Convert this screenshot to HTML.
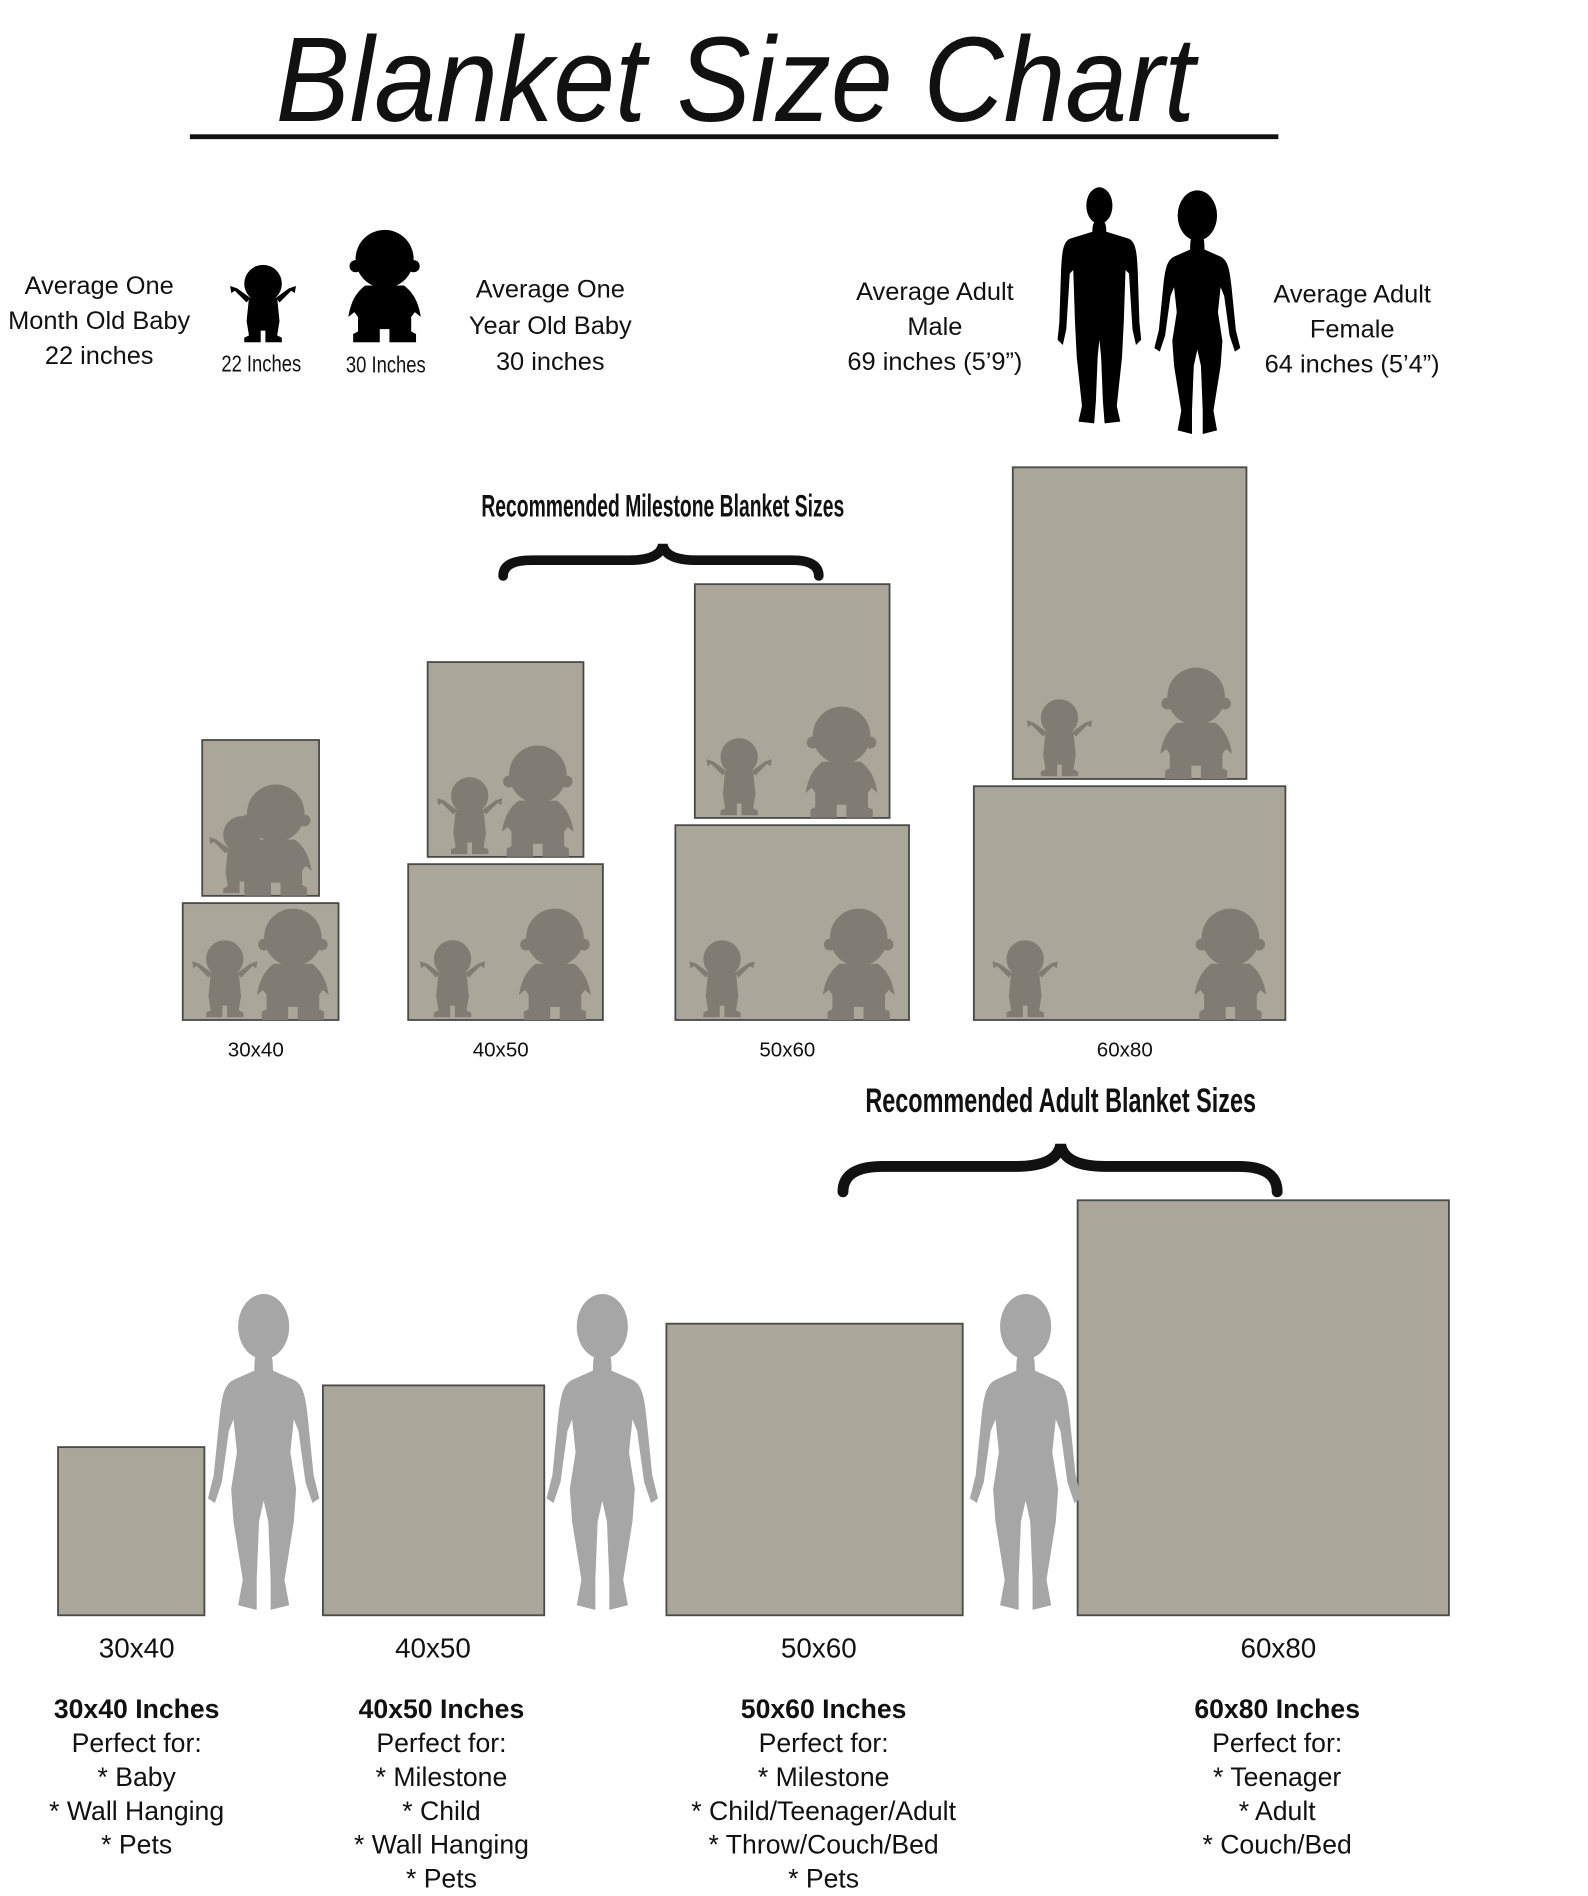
<!DOCTYPE html>
<html><head><meta charset="utf-8">
<style>
html,body{margin:0;padding:0;background:#fff;}
svg{display:block;}
text{font-family:"Liberation Sans",sans-serif;fill:#111;}
</style></head>
<body>
<svg id="chart" width="1588" height="1896" viewBox="0 0 1313 1567" preserveAspectRatio="none" xmlns="http://www.w3.org/2000/svg">
<defs>
  <symbol id="babySmall" viewBox="0 0 56 70">
    <circle cx="28" cy="20" r="16"/>
    <path d="M16,32 L40,32 L42,52 L40,64 L44,66 L44,70 L30,70 L30,60 L26,60 L26,70 L12,70 L12,66 L16,64 L14,52 Z"/>
    <path d="M14,36 L4,26 L1,28 L0,22 L6,24 L17,32 Z"/>
    <path d="M42,36 L52,26 L55,28 L56,22 L50,24 L39,32 Z"/>
  </symbol>
  <symbol id="babyBig" viewBox="0 0 60 95">
    <circle cx="30" cy="26" r="24"/>
    <circle cx="6" cy="32" r="5"/><circle cx="54" cy="32" r="5"/>
    <path d="M14,48 L46,48 C54,54 58,62 60,74 L55,70 L52,74 L52,86 L56,88 L56,95 L34,95 L34,84 L26,84 L26,95 L4,95 L4,88 L8,86 L8,74 L5,70 L0,74 C2,62 6,54 14,48 Z"/>
  </symbol>
  <symbol id="woman" viewBox="0 0 100 280">
    <ellipse cx="50" cy="32" rx="22" ry="28"/>
    <path d="M50,52 C58,52 58,62 58,70 L76,78 C84,82 86,92 88,110 L93,160 L98,180 L92,184 L86,166 L80,122 L76,112 L73,140 L78,172 L76,200 L68,250 L72,272 L56,276 L56,250 L54,200 L50,182 L46,200 L44,250 L44,276 L28,272 L32,250 L24,200 L22,172 L27,140 L24,112 L20,122 L14,166 L8,184 L2,180 L7,160 L12,110 C14,92 16,82 24,78 L42,70 C42,62 42,52 50,52 Z"/>
  </symbol>
  <symbol id="man" viewBox="0 0 100 280">
    <ellipse cx="50" cy="26" rx="15" ry="21"/>
    <path d="M50,42 C58,42 58,52 58,56 L84,64 C92,68 93,80 94,100 L96,160 L98,180 L92,186 L88,168 L84,104 L80,100 L78,160 L76,200 L70,256 L74,274 L56,276 L54,250 L52,200 L50,180 L48,200 L46,250 L44,276 L26,274 L30,256 L24,200 L22,160 L20,100 L16,104 L12,168 L8,186 L2,180 L4,160 L6,100 C7,80 8,68 16,64 L42,56 C42,52 42,42 50,42 Z"/>
  </symbol>
</defs>

<text x="608" y="100" text-anchor="middle" font-size="100" font-style="italic" textLength="760" lengthAdjust="spacingAndGlyphs">Blanket Size Chart</text>
<rect x="157" y="111" width="900" height="4" fill="#111"/>

<g font-size="21" text-anchor="middle">
  <text x="82" y="243">Average One</text><text x="82" y="272">Month Old Baby</text><text x="82" y="301">22 inches</text>
  <text x="455" y="246">Average One</text><text x="455" y="276">Year Old Baby</text><text x="455" y="306">30 inches</text>
  <text x="773" y="248">Average Adult</text><text x="773" y="277">Male</text><text x="773" y="306">69 inches (5’9”)</text>
  <text x="1118" y="250">Average Adult</text><text x="1118" y="279">Female</text><text x="1118" y="308">64 inches (5’4”)</text>
  <text x="216" y="307" font-size="19" textLength="66" lengthAdjust="spacingAndGlyphs">22 Inches</text>
  <text x="319" y="308" font-size="19" textLength="66" lengthAdjust="spacingAndGlyphs">30 Inches</text>
</g>
<use href="#babySmall" x="190" y="215" width="55" height="68" fill="#000"/>
<use href="#babyBig" x="288" y="188" width="60" height="95" fill="#000"/>
<use href="#man" x="873" y="142" width="72" height="220" fill="#000"/>
<use href="#woman" x="953" y="153" width="74" height="210" fill="#000"/>

<text x="548" y="427" text-anchor="middle" font-size="26" font-weight="bold" textLength="300" lengthAdjust="spacingAndGlyphs">Recommended Milestone Blanket Sizes</text>
<path d="M416,476 Q416,463 440,463 L520,463 Q546,463 548,450 Q550,463 576,463 L655,463 Q677,463 677,476" fill="none" stroke="#111" stroke-width="8" stroke-linecap="round"/>

<text x="877" y="919" text-anchor="middle" font-size="28" font-weight="bold" textLength="323" lengthAdjust="spacingAndGlyphs">Recommended Adult Blanket Sizes</text>
<path d="M697,985 Q697,964 730,964 L840,964 Q874,964 877,946 Q880,964 914,964 L1024,964 Q1056,964 1056,985" fill="none" stroke="#111" stroke-width="9" stroke-linecap="round"/>

<g id="milestone"></g>
<g id="adult"></g>
<g id="desc"></g>
</svg>
<script>
const blanketLabels = ["30x40", "40x50", "50x60", "60x80"];
const blanketWidthIn = [30, 40, 50, 60];
const blanketLengthIn = [40, 50, 60, 80];
const perfectFor = [
  ["Baby", "Wall Hanging", "Pets"],
  ["Milestone", "Child", "Wall Hanging", "Pets"],
  ["Milestone", "Child/Teenager/Adult", "Throw/Couch/Bed", "Pets"],
  ["Teenager", "Adult", "Couch/Bed"]
];

const NS = "http://www.w3.org/2000/svg";
function mk(tag, attrs, parent){const e=document.createElementNS(NS,tag);for(const k in attrs)e.setAttribute(k,attrs[k]);parent.appendChild(e);return e;}
const FILL="#aaa69a", STROKE="#4a4a48", BABY="#807c73";

const msCenters=[215.5,418,655,934];
const msScale=3.22, msBase=843, msGap=6;
const msG=document.getElementById("milestone");
function babies(x,y,w,h,parent,name){
  const s=mk("use",{href:"#babySmall",x:x+w*0.06,y:y+h-70,width:54,height:68,fill:BABY},parent);
  
  
  const b=mk("use",{href:"#babyBig",x:x+w-w*0.06-60,y:y+h-94,width:60,height:94,fill:BABY},parent);
  
  
}
blanketLabels.forEach((lab,i)=>{
  const cx=msCenters[i];
  const lw=blanketLengthIn[i]*msScale, lh=blanketWidthIn[i]*msScale;
  const lx=cx-lw/2, ly=msBase-lh;
  const r1=mk("rect",{x:lx,y:ly,width:lw,height:lh,fill:FILL,stroke:STROKE,"stroke-width":1.5},msG);
  
  
  babies(lx,ly,lw,lh,msG,'milestone-'+lab+'-landscape');
  const uw=blanketWidthIn[i]*msScale, uh=blanketLengthIn[i]*msScale;
  const ux=cx-uw/2, uy=ly-msGap-uh;
  const r2=mk("rect",{x:ux,y:uy,width:uw,height:uh,fill:FILL,stroke:STROKE,"stroke-width":1.5},msG);
  
  
  babies(ux,uy,uw,uh,msG,'milestone-'+lab+'-portrait');
  const t=mk("text",{x:cx-4,y:873,"text-anchor":"middle","font-size":17},msG);
  t.textContent=lab;
  
  
});

const adLeft=[48,267,551,891];
const adBase=1335;
const womanX=[170,450,800];
function adW(inch){return -65+6.2*inch;}
function adH(inch){return -65+5.1*inch;}
const adG=document.getElementById("adult");
const labelCenters=[113,358,677,1057];
blanketLabels.forEach((lab,i)=>{
  const w=adW(blanketWidthIn[i]), h=adH(blanketLengthIn[i]);
  const r=mk("rect",{x:adLeft[i],y:adBase-h,width:w,height:h,fill:FILL,stroke:STROKE,"stroke-width":1.5},adG);
  
  
  const t=mk("text",{x:labelCenters[i],y:1370,"text-anchor":"middle","font-size":23},adG);
  t.textContent=lab;
  
  
});
womanX.forEach((x,i)=>{
  const u=mk("use",{href:"#woman",x:x,y:1063,width:96,height:274,fill:"#a6a6a6"},adG);
  
  
});

const descCenters=[113,365,681,1056];
const dG=document.getElementById("desc");
blanketLabels.forEach((lab,i)=>{
  const g=mk("g",{"text-anchor":"middle","font-size":22},dG);
  
  
  const t=mk("text",{x:descCenters[i],y:1420,"font-weight":"bold"},g);
  t.textContent=lab+" Inches";
  const p=mk("text",{x:descCenters[i],y:1448},g);
  p.textContent="Perfect for:";
  perfectFor[i].forEach((item,j)=>{
    const l=mk("text",{x:descCenters[i],y:1476+28*j},g);
    l.textContent="* "+item;
  });
});
</script>
</body></html>
